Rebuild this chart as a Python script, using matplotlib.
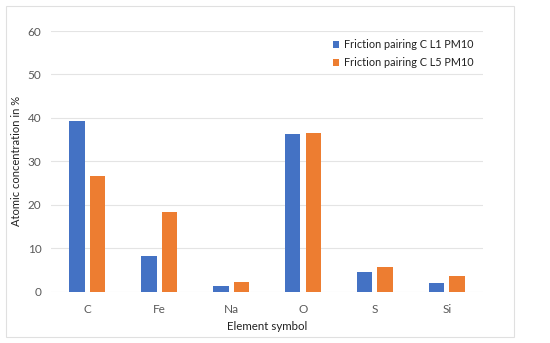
import matplotlib.pyplot as plt
import numpy as np
from matplotlib.patches import Rectangle

# Data
elements = ["C", "Fe", "Na", "O", "S", "Si"]
l1_values = [39.4, 8.2, 1.2, 36.2, 4.5, 2.1]
l5_values = [26.6, 18.3, 2.2, 36.6, 5.6, 3.5]
series_names = ["Friction pairing C L1 PM10", "Friction pairing C L5 PM10"]

plt.rcParams['font.family'] = ['Lato', 'DejaVu Sans']

fig = plt.figure(figsize=(5.5, 3.43), dpi=100)
ax = fig.add_axes([0.093, 0.1496, 0.785, 0.76])

x = np.arange(len(elements))
w = 0.22
ax.bar(x - 0.145, l1_values, w, color="#4472C4", label=series_names[0], zorder=3)
ax.bar(x + 0.145, l5_values, w, color="#ED7D31", label=series_names[1], zorder=3)

ax.set_xlim(-0.5, len(elements) - 0.5)
ax.set_ylim(0, 60)
ax.set_yticks(np.arange(0, 61, 10))
ax.set_xticks(x)
ax.set_xticklabels(elements)
ax.yaxis.grid(True, color="#E4E4E4", linewidth=0.8, zorder=0)
for s in ax.spines.values():
    s.set_visible(False)
ax.tick_params(axis="y", length=0, labelsize=8.5, colors="#595959", pad=7)
ax.tick_params(axis="x", length=0, labelsize=8.5, colors="#595959", pad=9)

ax.set_xlabel("Element symbol", fontsize=8.3, color="#222222", labelpad=4)
ax.set_ylabel("Atomic concentration in %", fontsize=8, color="#222222", labelpad=4)

leg = ax.legend(loc="upper right", bbox_to_anchor=(1.0, 1.005), frameon=False,
                fontsize=7.8, handlelength=0.6, handleheight=0.6, handletextpad=0.4,
                labelspacing=0.6, labelcolor="#222222")

# light outer border
fig.patches.append(Rectangle((0.011, 0.018), 0.924, 0.965, transform=fig.transFigure,
                             fill=False, edgecolor="#E0E0E0", linewidth=0.8))

fig.savefig("out.png", dpi=100)
